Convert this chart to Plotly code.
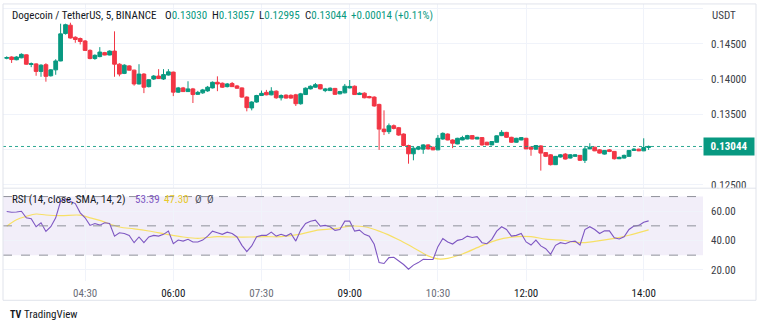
import plotly.graph_objects as go
import pandas as pd

# ---------------- data ----------------
open_ = [0.14294,0.14312,0.14273,0.14301,0.14343,0.14206,0.14214,0.14108,0.14203,0.14046,
         0.14130,0.14256,0.14644,0.14763,0.14592,0.14574,0.14539,0.14406,0.14290,0.14318,
         0.14374,0.14340,0.14396,0.14210,0.14080,0.14186,0.14126,0.13930,0.14070,0.13892,
         0.14000,0.14042,0.14000,0.14056,0.14098,0.13814,0.13874,0.13822,0.13860,0.13783,
         0.13804,0.13832,0.13874,0.13954,0.13940,0.13892,0.13937,0.13902,0.13874,0.13744,
         0.13590,0.13674,0.13766,0.13811,0.13776,0.13828,0.13734,0.13772,0.13769,0.13776,
         0.13650,0.13780,0.13860,0.13884,0.13920,0.13836,0.13836,0.13867,0.13790,0.13804,
         0.13874,0.13898,0.13780,0.13800,0.13752,0.13744,0.13640,0.13290,0.13254,0.13338,
         0.13310,0.13220,0.13058,0.12940,0.13006,0.13006,0.13066,0.13034,0.12996,0.13150,
         0.13220,0.13136,0.13080,0.13136,0.13150,0.13198,0.13150,0.13170,0.13104,0.13066,
         0.13104,0.13198,0.13244,0.13174,0.13104,0.13136,0.13160,0.13034,0.13006,0.13052,
         0.12957,0.12926,0.12786,0.12894,0.12936,0.12880,0.12904,0.12918,0.12848,0.13010,
         0.13034,0.12996,0.12936,0.12996,0.12974,0.12870,0.12880,0.12904,0.12988,0.13006,
         0.12982,0.13030]
high = [0.14322,0.14322,0.14322,0.14364,0.14350,0.14234,0.14224,0.14210,0.14224,0.14140,
        0.14280,0.14784,0.14784,0.14798,0.14606,0.14588,0.14553,0.14420,0.14350,0.14452,
        0.14385,0.14406,0.14676,0.14224,0.14210,0.14196,0.14133,0.14210,0.14084,0.14000,
        0.14056,0.14140,0.14140,0.14140,0.14105,0.13888,0.13888,0.13968,0.13874,0.13832,
        0.13860,0.13902,0.13965,0.14038,0.13951,0.13944,0.13958,0.13916,0.13881,0.13755,
        0.13685,0.13776,0.13836,0.13846,0.13884,0.13839,0.13783,0.13783,0.13783,0.13790,
        0.13804,0.13881,0.13909,0.13944,0.13930,0.13874,0.13881,0.13874,0.13832,0.13930,
        0.13986,0.13909,0.13811,0.13811,0.13762,0.13755,0.13650,0.13556,0.13370,0.13356,
        0.13321,0.13230,0.13069,0.13034,0.13048,0.13076,0.13076,0.13041,0.13206,0.13244,
        0.13230,0.13146,0.13167,0.13195,0.13209,0.13202,0.13181,0.13174,0.13111,0.13118,
        0.13202,0.13276,0.13251,0.13181,0.13167,0.13178,0.13167,0.13048,0.13062,0.13062,
        0.12964,0.12936,0.12908,0.12936,0.12950,0.12936,0.12936,0.12922,0.13052,0.13090,
        0.13041,0.13006,0.12992,0.13006,0.12978,0.12901,0.12929,0.12992,0.13020,0.13013,
        0.13160,0.13057]
low = [0.14280,0.14228,0.14266,0.14294,0.14203,0.14168,0.14046,0.14032,0.13962,0.14035,
       0.14060,0.14252,0.14630,0.14574,0.14514,0.14490,0.14399,0.14280,0.14273,0.14308,
       0.14336,0.14336,0.14032,0.14038,0.14070,0.14119,0.13906,0.13923,0.13800,0.13881,
       0.13986,0.14000,0.13986,0.14049,0.13758,0.13804,0.13818,0.13818,0.13660,0.13776,
       0.13790,0.13818,0.13867,0.13828,0.13874,0.13881,0.13888,0.13860,0.13734,0.13542,
       0.13556,0.13664,0.13762,0.13769,0.13769,0.13720,0.13696,0.13723,0.13720,0.13618,
       0.13636,0.13776,0.13853,0.13877,0.13853,0.13814,0.13832,0.13776,0.13783,0.13797,
       0.13867,0.13776,0.13776,0.13727,0.13727,0.13608,0.12996,0.13206,0.13220,0.13286,
       0.13195,0.13048,0.12800,0.12848,0.12992,0.12940,0.12999,0.12992,0.12992,0.13139,
       0.13132,0.13020,0.13076,0.13132,0.13146,0.13146,0.13146,0.13055,0.13062,0.13062,
       0.13097,0.13191,0.13167,0.13097,0.13097,0.13132,0.13006,0.12912,0.12999,0.12702,
       0.12894,0.12775,0.12782,0.12887,0.12859,0.12873,0.12897,0.12838,0.12810,0.13006,
       0.12978,0.12943,0.12929,0.12964,0.12859,0.12866,0.12873,0.12897,0.12981,0.12978,
       0.12978,0.12995]
close = [0.14304,0.14276,0.14312,0.14350,0.14210,0.14217,0.14108,0.14196,0.14038,0.14130,
         0.14256,0.14640,0.14770,0.14581,0.14560,0.14532,0.14406,0.14290,0.14336,0.14382,
         0.14340,0.14396,0.14210,0.14070,0.14196,0.14126,0.13930,0.14070,0.13884,0.13990,
         0.14042,0.14007,0.14063,0.14102,0.13814,0.13874,0.13822,0.13860,0.13780,0.13811,
         0.13846,0.13884,0.13954,0.13930,0.13884,0.13930,0.13892,0.13870,0.13744,0.13594,
         0.13674,0.13766,0.13797,0.13776,0.13828,0.13734,0.13766,0.13730,0.13730,0.13650,
         0.13790,0.13870,0.13898,0.13920,0.13860,0.13860,0.13870,0.13783,0.13822,0.13898,
         0.13895,0.13780,0.13800,0.13734,0.13734,0.13618,0.13290,0.13254,0.13338,0.13300,
         0.13206,0.13058,0.12940,0.13020,0.13034,0.13066,0.13010,0.12996,0.13160,0.13230,
         0.13136,0.13090,0.13160,0.13170,0.13198,0.13150,0.13174,0.13066,0.13066,0.13114,
         0.13195,0.13244,0.13174,0.13104,0.13160,0.13170,0.13010,0.13006,0.13058,0.12950,
         0.12904,0.12786,0.12904,0.12926,0.12866,0.12926,0.12926,0.12848,0.13010,0.13034,
         0.12982,0.12950,0.12988,0.12974,0.12870,0.12890,0.12918,0.12988,0.13006,0.12982,
         0.13030,0.13044]
rsi = [59.8,59.3,59.5,60.0,55.5,54.8,49.4,52.1,46.2,49.4,
       55.5,66.8,68.3,66.8,65.2,58.9,55.5,50.3,51.6,50.5,
       52.1,51.6,43.0,45.3,44.8,43.5,38.5,42.4,38.5,42.4,
       43.5,43.0,44.2,46.4,37.8,40.3,39.6,40.8,39.0,39.0,
       40.3,43.0,46.4,45.3,44.2,45.7,44.8,42.4,36.7,32.4,
       36.3,42.6,43.5,43.5,45.7,43.0,44.2,43.0,44.8,39.6,
       47.1,51.6,53.2,53.9,49.8,50.3,49.4,46.9,47.5,53.2,
       53.2,46.4,47.1,44.2,43.0,37.4,24.9,24.3,28.3,28.6,
       26.1,23.6,20.4,23.2,24.9,27.2,27.0,27.0,35.8,41.4,
       39.0,37.6,40.1,40.8,43.0,42.1,42.6,38.5,37.8,40.8,
       46.4,49.4,47.5,43.0,43.5,44.8,39.0,36.9,40.3,36.3,
       34.4,30.6,36.7,38.5,37.8,39.2,39.6,36.9,47.5,49.4,
       47.5,44.8,46.6,46.6,41.9,41.0,42.6,47.5,49.8,50.3,
       52.5,53.39]
sma_idx = [0,2,4,6,8,11,15,17,19,23,26,29,33,36,39,43,46,50,53,56,60,63,67,70,73,
           76,80,83,86,88,90,93,97,100,103,107,110,114,117,120,124,127,131]
sma_val = [49.8,54.2,56.5,58.1,57.4,57.0,57.3,55.5,53.7,49.2,48.0,46.5,44.0,42.4,41.5,
           42.6,42.4,42.4,42.6,42.6,44.3,46.8,48.1,49.8,49.4,46.4,40.5,35.1,29.5,27.4,
           27.8,30.8,36.5,40.3,42.3,42.6,40.9,40.0,38.5,39.4,41.4,43.6,47.30]

times = list(pd.date_range("2023-05-15 03:10", periods=len(close), freq="5min"))
sma_times = [times[i] for i in sma_idx]

price_ticks = [0.125, 0.130, 0.135, 0.140, 0.145, 0.150]
price_labels = ["0.12500", "", "0.13500", "0.14000", "0.14500", ""]
rsi_ticks = [20, 40, 60]
rsi_labels = ["20.00", "40.00", "60.00"]
time_ticks = ["2023-05-15 04:30", "2023-05-15 06:00", "2023-05-15 07:30", "2023-05-15 09:00",
              "2023-05-15 10:30", "2023-05-15 12:00", "2023-05-15 14:00"]
time_labels = ["04:30", "06:00", "07:30", "09:00", "10:30", "12:00", "14:00"]
time_major = [False, True, False, True, False, True, True]

# ---------------- style ----------------
W, H = 760, 328
GREEN = "#089981"
RED = "#F23645"
PURPLE = "#7E57C2"
YELLOW = "#F7E066"
GRID = "#f0f3fa"
TXT = "#131722"
FONT = "Liberation Sans Narrow, Roboto Condensed, Roboto, Arial, sans-serif"

def px(x):
    return x / W

def py(y):
    return 1 - y / H

X_LEFT, X_RIGHT = 3, 703
P_TOP, P_BOT = 4, 190
R_TOP, R_BOT = 192, 284

fig = go.Figure()
fig.add_trace(go.Candlestick(
    x=times, open=open_, high=high, low=low, close=close,
    increasing=dict(line=dict(color=GREEN, width=1), fillcolor=GREEN),
    decreasing=dict(line=dict(color=RED, width=1), fillcolor=RED),
    whiskerwidth=0, xaxis="x", yaxis="y", hoverinfo="skip", showlegend=False))

fig.add_trace(go.Scatter(x=sma_times, y=sma_val, mode="lines", line=dict(color=YELLOW, width=1.2, shape="spline"),
                         xaxis="x2", yaxis="y2", hoverinfo="skip", showlegend=False))
fig.add_trace(go.Scatter(x=times, y=rsi, mode="lines", line=dict(color=PURPLE, width=1.1),
                         xaxis="x2", yaxis="y2", hoverinfo="skip", showlegend=False))

x_range = ["2023-05-15 03:06:13", "2023-05-15 15:00:30"]
tt = [f"<span style='color:{TXT if m else '#6a6d78'}'>{l}</span>" for l, m in zip(time_labels, time_major)]

fig.update_layout(
    width=W, height=H, margin=dict(l=0, r=0, t=0, b=0),
    paper_bgcolor="white", plot_bgcolor="white",
    font=dict(family=FONT, size=11, color=TXT),
    boxgap=0.15, boxgroupgap=0.1,
    hovermode=False,
    xaxis=dict(domain=[px(X_LEFT), px(X_RIGHT)], range=x_range, type="date", anchor="y",
               tickvals=time_ticks, showticklabels=False, showgrid=True, gridcolor=GRID,
               zeroline=False, showline=False, rangeslider=dict(visible=False), fixedrange=True),
    yaxis=dict(domain=[py(P_BOT), py(P_TOP)], range=[0.12460, 0.15064], side="right", anchor="x",
               tickvals=price_ticks, ticktext=price_labels, showgrid=True, gridcolor=GRID,
               zeroline=False, showline=False, ticks="", ticklabelstandoff=7,
               tickfont=dict(size=11, color="#3b3e47")),
    xaxis2=dict(domain=[px(X_LEFT), px(X_RIGHT)], range=x_range, type="date", anchor="y2",
                tickvals=time_ticks, ticktext=tt, showgrid=True, gridcolor=GRID,
                zeroline=False, showline=False, ticks="", ticklabelstandoff=4,
                tickfont=dict(size=11)),
    yaxis2=dict(domain=[py(R_BOT), py(R_TOP)], range=[12.66, 74.72], side="right", anchor="x2",
                tickvals=rsi_ticks, ticktext=rsi_labels, showgrid=True, gridcolor=GRID,
                zeroline=False, showline=False, ticks="", ticklabelstandoff=7,
                tickfont=dict(size=11, color="#3b3e47")),
)

shapes = []
# RSI band and levels
shapes.append(dict(type="rect", xref="x2 domain", yref="y2", x0=0, x1=1, y0=30, y1=70,
                   fillcolor="rgba(126,87,194,0.1)", line=dict(width=0), layer="below"))
for lv in (70, 50, 30):
    shapes.append(dict(type="line", xref="x2 domain", yref="y2", x0=0, x1=1, y0=lv, y1=lv,
                       line=dict(color="#8f919a", width=1, dash="dash")))
# last price dotted line
shapes.append(dict(type="line", xref="x domain", yref="y", x0=0, x1=1, y0=close[-1], y1=close[-1],
                   line=dict(color="rgba(8,153,129,0.85)", width=1, dash="dot")))
# clip the 0.12500 label at pane border
shapes.append(dict(type="rect", xref="paper", yref="paper", x0=px(X_RIGHT + 1), x1=px(756),
                   y0=py(198), y1=py(190.5), fillcolor="white", line=dict(width=0), layer="above"))
# pane separator + frame
shapes.append(dict(type="line", xref="paper", yref="paper", x0=px(3), x1=px(756), y0=py(190.5), y1=py(190.5),
                   line=dict(color="#e0e3eb", width=1), layer="above"))
shapes.append(dict(type="rect", xref="paper", yref="paper", x0=px(3), x1=px(756), y0=py(304), y1=py(4),
                   line=dict(color="#e0e3eb", width=1), fillcolor="rgba(0,0,0,0)", layer="above"))
fig.update_layout(shapes=shapes)

ann = []
def label(x, y, text, color=TXT, size=11, **kw):
    ann.append(dict(xref="paper", yref="paper", x=px(x), y=py(y), text=text, showarrow=False,
                    xanchor="left", yanchor="middle", font=dict(size=size, color=color), **kw))

label(10, 16, "Dogecoin / TetherUS, 5, BINANCE")
label(163, 16, f"O<span style='color:{GREEN}'>{open_[-1]:.5f}</span>")
label(210, 16, f"H<span style='color:{GREEN}'>{high[-1]:.5f}</span>")
label(257, 16, f"L<span style='color:{GREEN}'>{low[-1]:.5f}</span>")
label(303, 16, f"C<span style='color:{GREEN}'>{close[-1]:.5f}</span>")
chg = close[-1] - close[-2]
label(349, 16, f"+{chg:.5f} (+{chg / close[-2] * 100:.2f}%)", color=GREEN)
label(710, 16, "USDT", color="#3b3e47")

label(10, 202, "RSI (14, close, SMA, 14, 2)")
label(133, 202, f"{rsi[-1]:.2f}", color=PURPLE)
label(162, 202, f"{sma_val[-1]:.2f}", color="#e8c92a")
label(193, 202, "Ø", color="#50535e")
label(205, 202, "Ø", color="#50535e")

# last price label
ann.append(dict(xref="paper", yref="y", x=px(X_RIGHT), y=close[-1], text=f"<b>{close[-1]:.5f}</b>",
                showarrow=False, xanchor="left", yanchor="middle", bgcolor=GREEN, borderpad=2,
                font=dict(size=11, color="white"), width=46, align="center"))

# footer
label(8, 318, "<b>TV</b>", color=TXT, size=10)
label(22, 318, "TradingView", color=TXT, size=11)
fig.update_layout(annotations=ann)

fig.write_html("out.html")
